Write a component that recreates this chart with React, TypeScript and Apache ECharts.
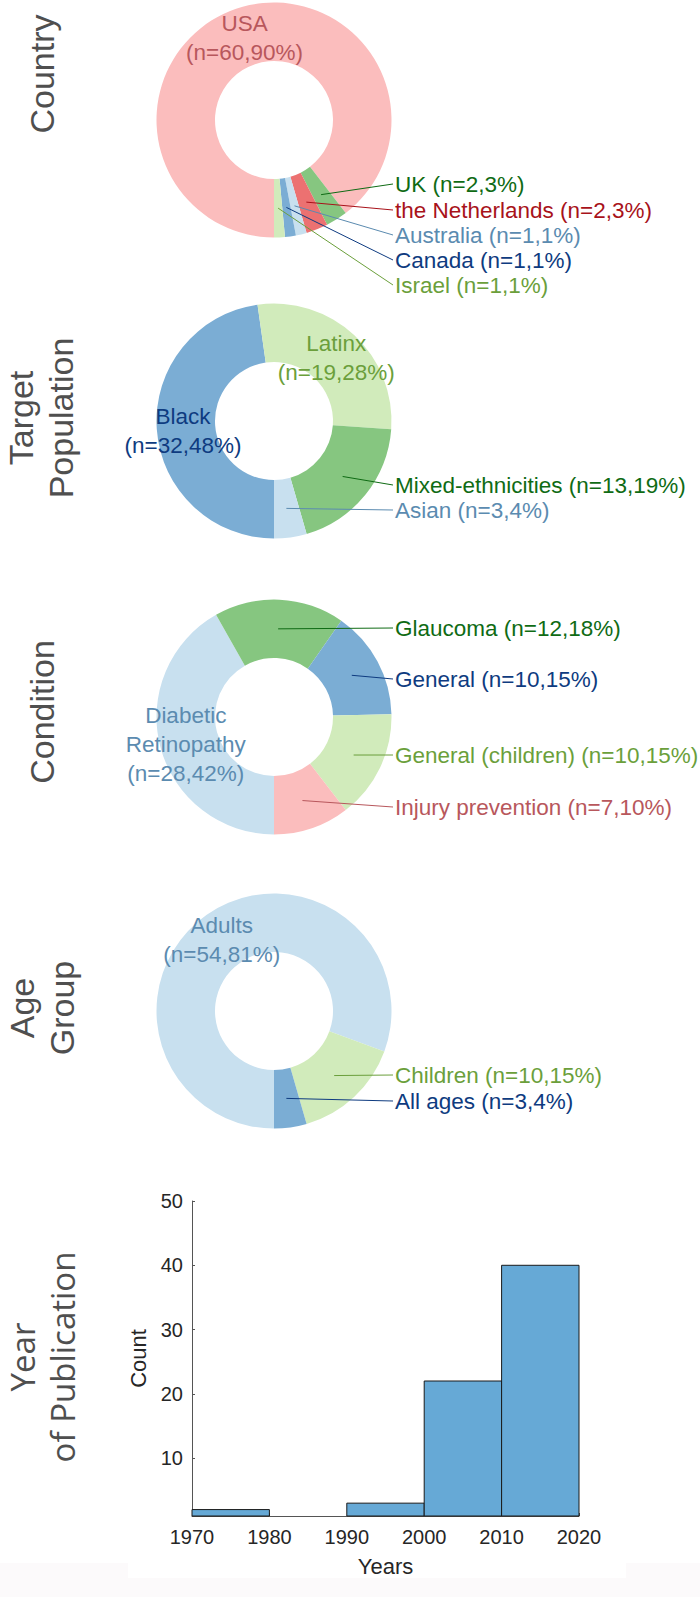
import React, { useEffect, useRef } from "react";
import * as echarts from "echarts";

// ---------------- DATA ----------------
const countryNames = ["USA", "UK", "the Netherlands", "Australia", "Canada", "Israel"];
const countryCounts = [60, 2, 2, 1, 1, 1];
const countryPercents = [90, 3, 3, 1, 1, 1];

const populationNames = ["Black", "Latinx", "Mixed-ethnicities", "Asian"];
const populationCounts = [32, 19, 13, 3];
const populationPercents = [48, 28, 19, 4];

const conditionNames = ["Diabetic Retinopathy", "Glaucoma", "General", "General (children)", "Injury prevention"];
const conditionCounts = [28, 12, 10, 10, 7];
const conditionPercents = [42, 18, 15, 15, 10];

const ageNames = ["Adults", "Children", "All ages"];
const ageCounts = [54, 10, 3];
const agePercents = [81, 15, 4];

const yearBinStarts = [1970, 1980, 1990, 2000, 2010];
const yearBinCounts = [2, 0, 3, 22, 40];
const yearBinWidth = 10;
const countTicks = [10, 20, 30, 40, 50];

const rowTitles = ["Country", "Target\nPopulation", "Condition", "Age\nGroup", "Year\nof Publication"];

// ---------------- STYLES / LAYOUT ----------------
const FONT = '"Liberation Sans", Arial, Helvetica, sans-serif';
const SW = {
  pink: { fill: "#fbbdbd", text: "#b8575c" },
  red: { fill: "#ec7171", text: "#a8121a" },
  green: { fill: "#86c680", text: "#0f6b14" },
  lightGreen: { fill: "#d1ebbb", text: "#6b9f3b" },
  blue: { fill: "#7badd4", text: "#0e3b80" },
  lightBlue: { fill: "#c8e0ef", text: "#5b8bb0" },
};
const CX = 274;
const R0 = 59;
const R1 = 117.5;
const LX = 395;
const LABEL_SIZE = 22.5;

function makePie(
  names: string[],
  counts: number[],
  percents: number[],
  swatches: { fill: string; text: string }[],
  inside: boolean[],
  offsets: number[],
  cy: number
) {
  const total = counts.reduce((a, b) => a + b, 0);
  const starts: number[] = [];
  let acc = 0;
  counts.forEach((c) => {
    starts.push(acc);
    acc += c;
  });
  const common = {
    type: "pie",
    center: [CX, cy],
    radius: [R0, R1],
    startAngle: 270,
    clockwise: true,
    avoidLabelOverlap: false,
    silent: true,
  };
  const base = {
    ...common,
    z: 2,
    itemStyle: { borderWidth: 0 },
    label: { show: false },
    labelLine: { show: false },
    data: names.map((n, i) => ({ name: n, value: counts[i], itemStyle: { color: swatches[i].fill } })),
  };
  const overlay = {
    ...common,
    z: 4,
    itemStyle: { borderWidth: 0, color: "rgba(0,0,0,0)" },
    label: {
      show: true,
      position: "outside",
      fontSize: LABEL_SIZE,
      fontFamily: FONT,
      overflow: "none",
      lineHeight: 29,
    },
    labelLine: { show: true, lineStyle: { width: 1 } },
    labelLayout: (p: any) => {
      const i = p.dataIndex;
      if (inside[i]) return { dy: 4 };
      const mid = ((starts[i] + counts[i] / 2) / total) * 2 * Math.PI;
      const rm = (R0 + R1) / 2;
      const sx = CX - rm * Math.sin(mid);
      const sy = cy + rm * Math.cos(mid);
      const ly = cy + offsets[i];
      return {
        x: LX,
        y: ly,
        align: "left",
        verticalAlign: "middle",
        labelLinePoints: [
          [sx, sy],
          [LX - 2, ly],
          [LX - 2, ly],
        ],
      };
    },
    data: names.map((n, i) => ({
      name: n,
      value: counts[i],
      itemStyle: { color: "rgba(0,0,0,0)" },
      label: inside[i]
        ? {
            position: "inside",
            color: swatches[i].text,
            formatter: n.split(" ").join("\n") + `\n(n=${counts[i]},${percents[i]}%)`,
          }
        : {
            color: swatches[i].text,
            formatter: `${n} (n=${counts[i]},${percents[i]}%)`,
          },
      labelLine: { show: !inside[i], lineStyle: { color: swatches[i].text, width: 1, opacity: 1 } },
    })),
  };
  return [base, overlay];
}

export default function App() {
  const ref = useRef<HTMLDivElement>(null);
  useEffect(() => {
    document.body.style.margin = "0";
    const chart = echarts.init(ref.current!, undefined, { renderer: "svg" });

    const titlePos = [
      [42, 74],
      [41, 418],
      [42, 712],
      [42, 1008],
      [42, 1357],
    ];

    const option: any = {
      animation: false,
      textStyle: { fontFamily: FONT },
      graphic: [
        { type: "rect", z: -5, silent: true, shape: { x: 0, y: 1578, width: 700, height: 19 }, style: { fill: "#fcfafb" } },
        { type: "rect", z: -5, silent: true, shape: { x: 0, y: 1563, width: 128, height: 15 }, style: { fill: "#fcfafb" } },
        { type: "rect", z: -5, silent: true, shape: { x: 626, y: 1563, width: 74, height: 15 }, style: { fill: "#fcfafb" } },
        ...rowTitles.map((t, i) => ({
          type: "text",
          x: titlePos[i][0],
          y: titlePos[i][1],
          rotation: Math.PI / 2,
          silent: true,
          style: {
            text: t,
            fill: "#4f4f4f",
            fontSize: i === 4 ? 33 : 34,
            fontFamily: i === 4 ? '"Open Sans", "Noto Sans", sans-serif' : FONT,
            align: "center",
            verticalAlign: "middle",
            lineHeight: 40,
          },
        })),
      ],
      grid: { left: 192, top: 1201, width: 387, height: 315 },
      xAxis: {
        type: "value",
        min: 1970,
        max: 2020,
        interval: 10,
        axisLine: { show: true, lineStyle: { color: "#555555", width: 1 } },
        axisTick: { show: true, inside: true, length: 3, lineStyle: { color: "#555555" } },
        axisLabel: {
          fontSize: 20,
          color: "#262626",
          margin: 11,
          fontFamily: FONT,
          formatter: (v: number) => String(v),
        },
        splitLine: { show: false },
        name: "Years",
        nameLocation: "middle",
        nameGap: 39,
        nameTextStyle: { fontSize: 22, color: "#262626", fontFamily: FONT },
      },
      yAxis: {
        type: "value",
        min: 1,
        max: 50,
        axisLine: { show: true, lineStyle: { color: "#555555", width: 1 } },
        axisTick: { show: true, inside: true, length: 3, customValues: countTicks, lineStyle: { color: "#555555" } },
        axisLabel: { fontSize: 20, color: "#262626", margin: 9, customValues: countTicks, fontFamily: FONT },
        splitLine: { show: false },
        name: "Count",
        nameLocation: "middle",
        nameGap: 36,
        nameTextStyle: { fontSize: 22, color: "#262626", fontFamily: FONT },
      },
      series: [
        ...makePie(
          countryNames,
          countryCounts,
          countryPercents,
          [SW.pink, SW.green, SW.red, SW.lightBlue, SW.blue, SW.lightGreen],
          [true, false, false, false, false, false],
          [0, 64, 90, 115, 140, 165],
          120
        ),
        ...makePie(
          populationNames,
          populationCounts,
          populationPercents,
          [SW.blue, SW.lightGreen, SW.green, SW.lightBlue],
          [true, true, false, false],
          [0, 0, 64, 89],
          421
        ),
        ...makePie(
          conditionNames,
          conditionCounts,
          conditionPercents,
          [SW.lightBlue, SW.green, SW.blue, SW.lightGreen, SW.pink],
          [true, false, false, false, false],
          [0, -89, -38, 38, 90],
          717
        ),
        ...makePie(
          ageNames,
          ageCounts,
          agePercents,
          [SW.lightBlue, SW.lightGreen, SW.blue],
          [true, false, false],
          [0, 64, 90],
          1011
        ),
        {
          type: "custom",
          silent: true,
          encode: { x: [0, 1], y: 2 },
          data: yearBinStarts.map((s, i) => [s, s + yearBinWidth, yearBinCounts[i]]),
          renderItem: (params: any, api: any) => {
            const x0 = api.value(0);
            const x1 = api.value(1);
            const v = api.value(2);
            if (v <= 1) return { type: "group", children: [] };
            const p0 = api.coord([x0, v]);
            const p1 = api.coord([x1, 1]);
            return {
              type: "rect",
              shape: { x: p0[0], y: p0[1], width: p1[0] - p0[0], height: p1[1] - p0[1] },
              style: { fill: "#66a9d6", stroke: "#1a1a1a", lineWidth: 1 },
            };
          },
        },
      ],
    };
    chart.setOption(option);
    return () => chart.dispose();
  }, []);
  return (
    <div
      ref={ref}
      style={{ position: "absolute", left: 0, top: 0, width: 700, height: 1597, background: "#ffffff" }}
    />
  );
}
